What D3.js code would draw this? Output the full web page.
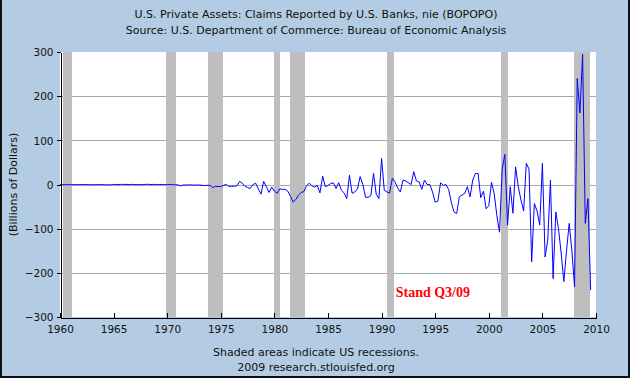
<!DOCTYPE html>
<html><head><meta charset="utf-8">
<script src="https://cdn.jsdelivr.net/npm/d3@7"></script>
<style>body{margin:0;background:#fff;} svg{display:block;}</style>
</head><body>
<script>
// ---- data ----
const startYear = 1960;          // first quarter: 1960 Q1
const periodsPerYear = 4;        // quarterly series
const values = [
  -0.3,-0.2,-0.5,-0.4,  -0.6,-0.3,-0.2,-0.5,  -0.1,-0.3,-0.2,-0.4,  -0.5,-0.6,-0.1,-0.3,  -0.4,-0.8,-0.6,-0.7, // 1960-64
   0.2, 0.1,-0.3, 0.4,   0.1, 0.2,-0.2, 0.3,  -0.3,-0.4, 0.2,-0.5,   0.4, 0.3,-0.1, 0.2,   0.1,-0.4, 0.3,-0.2, // 1965-69
  -0.3,-0.2,-0.4,-0.6,  -0.8,-3.0,-1.0,-1.2,  -1.0,-0.8,-1.5,-1.2,  -1.0,-2.0,-2.2,-2.0,  -2.0,-7.0,-4.0,-4.5, // 1970-74
  -4.5,-2.0, 0.0,-4.0,  -4.0,-4.0,-3.0, 7.0,   3.0,-4.0,-7.0,-9.0,   0.0, 3.0,-10,-22,     7,-5,-18,-6,        // 1975-79
  -15,-20,-10,-11,      -11,-15,-27,-40,      -34,-24,-18,-16,      -3, 3,-3,-6,          -2,-19,19,-5,       // 1980-84
  -2, 2, 4,-9,          4,-13,-19,-32,        21,-20,-17,-10,       18, 0,-29,-29,        -25,25,-22,-32,     // 1985-89
  59,-13,-17,-19,       14, 6,-8,-17,         10, 8, 4, 0,          29, 8, 6,-11,         10, 0, 0,-17,       // 1990-94
  -40,-38, 4,-2,        0,-11,-40,-62,        -66,-28,-24,-20,      -5,-28,10,25,         25,-30,-15,-55,     // 1995-99
  -48, 5,-20,-70,       -108,35,68,-92,       -5,-65,40,-5,         -35,-60,48,35,        -175,-43,-60,-92,   // 2000-04
  48,-164,-126,10,      -213,-62,-100,-155,   -220,-150,-88,-150,   -232,240,162,295,     -88,-32,-239        // 2005-09Q3
];
const recessions = [
  [1960.25, 1961.083], [1969.917, 1970.833], [1973.833, 1975.167], [1980.0, 1980.5],
  [1981.5, 1982.833], [1990.5, 1991.167], [2001.167, 2001.833], [2007.917, 2009.417]
];
const xTicks = [1960,1965,1970,1975,1980,1985,1990,1995,2000,2005,2010];
const yTicks = [-300,-200,-100,0,100,200,300];
const yGrid = [-200,-100,0,100,200];
const titleLines = [
  "U.S. Private Assets: Claims Reported by U.S. Banks, nie (BOPOPO)",
  "Source: U.S. Department of Commerce: Bureau of Economic Analysis"
];
const noteLines = ["Shaded areas indicate US recessions.", "2009 research.stlouisfed.org"];
const yLabel = "(Billions of Dollars)";
const annotation = "Stand Q3/09";

// ---- layout ----
const W = 630, H = 378;
const P = {left: 60, right: 596, top: 52, bottom: 317};
const font = "'DejaVu Sans', Verdana, sans-serif";

const svg = d3.select("body").append("svg").attr("width", W).attr("height", H);

svg.append("rect").attr("x",0).attr("y",0).attr("width",W).attr("height",H).attr("fill","#B3CCE3");
// dark frame
svg.append("path").attr("d",`M1,0 V${H-1} H${W-1} V0`).attr("fill","none").attr("stroke","#111").attr("stroke-width",2);

const x = d3.scaleLinear().domain([1960, 2010]).range([P.left, P.right]);
const y = d3.scaleLinear().domain([-300, 300]).range([P.bottom, P.top]);

svg.append("rect").attr("x",P.left).attr("y",P.top).attr("width",P.right-P.left).attr("height",P.bottom-P.top).attr("fill","#fff");

// grid
svg.append("g").selectAll("line").data(yGrid).join("line")
  .attr("x1",P.left).attr("x2",P.right)
  .attr("y1",d=>Math.round(y(d))+0.5).attr("y2",d=>Math.round(y(d))+0.5)
  .attr("stroke","#A8A8A8").attr("stroke-width",1);

// recessions
svg.append("g").selectAll("rect").data(recessions).join("rect")
  .attr("x",d=>Math.round(x(d[0]))).attr("width",d=>Math.round(x(d[1]))-Math.round(x(d[0])))
  .attr("y",P.top).attr("height",P.bottom-P.top).attr("fill","#BEBEBE");

// series
const pts = values.map((v,i)=>({t: startYear + i/periodsPerYear, v}));
const line = d3.line().x(d=>x(d.t)).y(d=>y(d.v));
svg.append("path").datum(pts).attr("d",line).attr("fill","none")
  .attr("stroke","#0000FF").attr("stroke-width",1).attr("stroke-linejoin","miter");

// axes
const yAxis = d3.axisLeft(y).tickValues(yTicks).tickSizeInner(4).tickSizeOuter(0).tickPadding(3).tickFormat(d3.format("d"));
const gy = svg.append("g").attr("transform",`translate(${P.left+0.5},0)`).call(yAxis);
const xAxis = d3.axisBottom(x).tickValues(xTicks).tickSizeInner(-5).tickSizeOuter(0).tickPadding(8).tickFormat(d3.format("d"));
const gx = svg.append("g").attr("transform",`translate(0,${P.bottom+0.5})`).call(xAxis);
[gx, gy].forEach(g=>{
  g.select(".domain").attr("stroke","#000").attr("shape-rendering","crispEdges");
  g.selectAll(".tick line").attr("stroke","#000").attr("shape-rendering","crispEdges");
  g.selectAll(".tick text").attr("fill","#111").style("font-family",font).style("font-size","10.5px");
});
gy.selectAll(".tick text").attr("dy","0.35em");

// titles
svg.append("g").selectAll("text").data(titleLines).join("text")
  .attr("x",316).attr("y",(d,i)=>18+i*16).attr("text-anchor","middle")
  .style("font-family",font).style("font-size","11px").attr("fill","#111").text(d=>d);

svg.append("g").selectAll("text").data(noteLines).join("text")
  .attr("x",316).attr("y",(d,i)=>356+i*15).attr("text-anchor","middle")
  .style("font-family",font).style("font-size","11px").attr("fill","#111").text(d=>d);

svg.append("text").attr("transform",`translate(17,${(P.top+P.bottom)/2}) rotate(-90)`)
  .attr("text-anchor","middle").style("font-family",font).style("font-size","11px").attr("fill","#111").text(yLabel);

svg.append("text").attr("x",470).attr("y",297).attr("text-anchor","end")
  .style("font-family","'Liberation Serif','Times New Roman',serif").style("font-weight","bold")
  .style("font-size","14px").attr("fill","#FF0000").text(annotation);
</script>
</body></html>
